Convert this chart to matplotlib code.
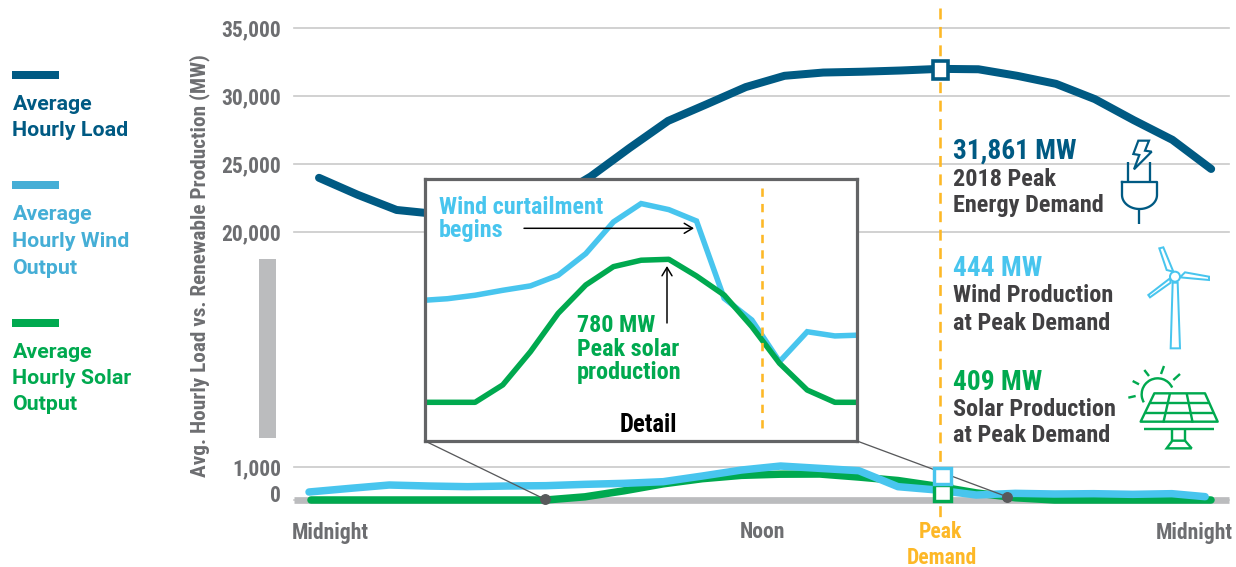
#!/usr/bin/env python3
"""Average hourly load vs wind and solar output, with a detail inset."""
import matplotlib
matplotlib.use("Agg")
import numpy as np
import matplotlib.pyplot as plt
from matplotlib.patches import Polygon, Rectangle, Arc, Circle
from matplotlib.transforms import ScaledTranslation

W, H = 1236, 567

# palette
LOAD = "#005a83"
WIND = "#48c5ee"
WIND_KEY = "#45aed6"
SOLAR = "#00a94f"
ORANGE = "#fdb827"
GRID = "#cbcbcb"
BASE = "#bbbcbe"
TICK = "#6d6e71"
DARK = "#414042"
FRAME = "#636466"

COND = ["Roboto Condensed", "Liberation Sans Narrow", "Roboto"]
REG = ["Roboto", "DejaVu Sans"]

# data, one value per hour
hours = list(range(24))
load = [24000, 22750, 21640, 21350, 21000, 20900, 22400, 24090, 26180, 28180, 29410, 30660,
        31490, 31730, 31790, 31880, 32000, 31970, 31490, 30900, 29780, 28240, 26790, 24650]
wind_hours = [-0.05] + list(range(1, 23)) + [22.85]
wind = [240, 350, 450, 420, 400, 420, 430, 470, 500, 550, 720, 900,
        1020, 950, 880, 400, 300, 150, 200, 180, 190, 170, 190, 100]
solar = [0, 0, 0, 0, 0, 0, 0, 95, 276, 485, 640, 740,
         775, 780, 689, 585, 413, 213, 67, 0, 0, 0, 0, 0]

# the detail box is read separately, it is drawn larger than the main lines
detail_hours = list(range(4, 21))
detail_wind = [555, 565, 584, 611, 635, 693, 811, 984, 1084, 1051, 989, 567, 449, 222, 385, 362, 367]
detail_solar = [0, 0, 0, 95, 276, 485, 640, 740, 775, 780, 689, 585, 413, 213, 67, 0, 0]

upper_ticks = [20000, 25000, 30000, 35000]
lower_ticks = [0, 1000]


def px_axes(fig, x0, y0, x1, y1, **kw):
    """Axes placed by reference pixels (y measured from the top)."""
    return fig.add_axes([x0 / W, 1 - y1 / H, (x1 - x0) / W, (y1 - y0) / H], **kw)


def px(n):
    return n * 72.0 / 100.0


def style_range(ax):
    ax.patch.set_alpha(0)
    for s in ax.spines.values():
        s.set_visible(False)
    ax.set_xticks([])
    ax.tick_params(axis="y", length=0, pad=px(13), labelcolor=TICK)
    ax.yaxis.grid(True, color=GRID, lw=px(1.7), clip_on=False)
    ax.set_axisbelow(True)


def plug_icon(ov):
    kw = dict(color=LOAD, lw=px(2.3), solid_capstyle="butt")
    ov.plot([1127.5, 1127.5], [162, 182], **kw)
    ov.plot([1150, 1150], [162, 182], **kw)
    t = np.linspace(np.pi, 0, 30)
    bx = np.r_[1122, 1122, 1139.5 + 17.5 * np.cos(t), 1157, 1122]
    by = np.r_[182, 195, 195 + 14 * np.sin(t), 182, 182]
    ov.plot(bx, by, color=LOAD, lw=px(2.3))
    ov.plot([1139, 1139], [209, 224], **kw)
    bolt = [(85, 32), (117, 32), (105, 62), (125, 65), (72, 118), (88, 75), (70, 72)]
    ov.add_patch(Polygon([(1110 + x / 3, 130 + y / 3) for x, y in bolt], closed=True,
                         fill=False, ec=LOAD, lw=px(2.2)))


def turbine_icon(ov):
    parts = [[(100, 22), (88, 25), (110, 90), (130, 95)],
             [(165, 97), (237, 110), (237, 120), (150, 112)],
             [(120, 115), (55, 165), (60, 172), (122, 128)],
             [(128, 128), (143, 128), (150, 325), (122, 325)]]
    for p in parts:
        ov.add_patch(Polygon([(1130 + x / 3, 240 + y / 3) for x, y in p], closed=True,
                             fill=False, ec=WIND, lw=px(2.0)))
    ov.add_patch(Circle((1130 + 135 / 3, 240 + 110 / 3), 5, fc="white", ec=WIND, lw=px(2.0), zorder=4))


def solar_icon(ov):
    def seg(a, b):
        ov.plot([1120 + a[0] / 3, 1120 + b[0] / 3], [360 + a[1] / 3, 360 + b[1] / 3],
                color=SOLAR, lw=px(2.4), solid_capstyle="butt")
    panel = [(103, 100), (255, 100), (293, 185), (62, 185)]
    ov.add_patch(Polygon([(1120 + x / 3, 360 + y / 3) for x, y in panel], closed=True,
                         fill=False, ec=SOLAR, lw=px(2.4), joinstyle="round"))
    seg((90, 128), (268, 128))
    seg((76, 160), (282, 160))
    seg((150, 100), (130, 188))
    seg((200, 100), (218, 188))
    seg((72, 208), (283, 208))
    seg((157, 208), (157, 242))
    seg((195, 208), (195, 242))
    base = [(157, 242), (195, 242), (215, 265), (140, 265)]
    ov.add_patch(Polygon([(1120 + x / 3, 360 + y / 3) for x, y in base], closed=True,
                         fill=False, ec=SOLAR, lw=px(2.4)))
    # y axis of the overlay is flipped, so the arc angles run clockwise
    ov.add_patch(Arc((1120 + 113 / 3, 360 + 103 / 3), 32, 32, theta1=150, theta2=335,
                     color=SOLAR, lw=px(2.4)))
    for a, b in [((25, 113), (47, 108)), ((38, 63), (57, 73)), ((73, 30), (87, 48)),
                 ((132, 18), (123, 42)), ((180, 42), (160, 60))]:
        seg(a, b)


def main():
    plt.rcParams.update({"font.family": REG})
    fig = plt.figure(figsize=(W / 100, H / 100), dpi=100, facecolor="white")

    # top part of the broken axis
    up = px_axes(fig, 294, 28, 1229, 232.3, zorder=1)
    up.plot(hours, load, color=LOAD, lw=px(8), solid_capstyle="round", solid_joinstyle="round", clip_on=False)
    up.set_xlim(-0.645, 23.46)
    up.set_ylim(20000, 35000)
    up.set_yticks(upper_ticks, [f"{v:,}" for v in upper_ticks], family=COND, fontsize=15.5, fontweight="bold")
    style_range(up)

    # bottom part of the broken axis
    lo = px_axes(fig, 294, 466.7, 1229, 500, zorder=2)
    kw = dict(lw=px(7.5), solid_capstyle="round", solid_joinstyle="round", clip_on=False)
    lo.axhline(0, color=BASE, lw=px(6.7), solid_capstyle="butt", zorder=1.5, clip_on=False)
    lo.plot(hours, solar, color=SOLAR, **kw)
    lo.plot(wind_hours, wind, color=WIND, **kw)
    lo.set_xlim(-0.434, 23.46)
    lo.set_ylim(0, 1000)
    lo.set_yticks(lower_ticks, [f"{v:,}" for v in lower_ticks], family=COND, fontsize=15.5, fontweight="bold")
    style_range(lo)
    zero = lo.get_yticklabels()[0]
    zero.set_transform(zero.get_transform() + ScaledTranslation(0, 5 / 72, fig.dpi_scale_trans))

    # detail box
    ins = px_axes(fig, 425, 179, 857, 441, zorder=4)
    ins.plot(detail_hours, detail_wind, color=WIND, lw=px(5.5), solid_joinstyle="miter")
    ins.plot(detail_hours, detail_solar, color=SOLAR, lw=px(5.5), solid_joinstyle="round")
    ins.set_xlim(4.19, 19.8)
    ins.set_ylim(-211, 1218)
    ins.set_xticks([])
    ins.set_yticks([])
    for s in ins.spines.values():
        s.set_color(FRAME)
        s.set_linewidth(px(3.2))

    # overlay in reference pixels: labels, connectors, icons
    ov = fig.add_axes([0, 0, 1, 1], zorder=5)
    ov.set_xlim(0, W)
    ov.set_ylim(H, 0)
    ov.axis("off")

    def text(x, y, s, color, size, fam=COND, ha="left", rot=0):
        ov.text(x, y, s, color=color, fontsize=size, family=fam, fontweight="bold",
                ha=ha, va="center", rotation=rot, zorder=6)

    # legend
    rows = [(71, LOAD, [(104, "Average"), (130, "Hourly Load")]),
            (181, WIND_KEY, [(214.5, "Average"), (241.5, "Hourly Wind"), (268, "Output")]),
            (319, SOLAR, [(352, "Average"), (378, "Hourly Solar"), (404.5, "Output")])]
    for top, col, lines in rows:
        ov.add_patch(Rectangle((12, top), 47, 8, fc=col, ec="none"))
        for y, s in lines:
            text(12.5, y, s, col, 15.4, REG)

    # axis break and y title
    ov.add_patch(Rectangle((259, 259), 17, 179, fc=BASE, ec="none"))
    text(200, 266, "Avg. Hourly Load vs. Renewable Production (MW)", TICK, 15.3, ha="center", rot=90)

    # x labels
    text(330, 532.5, "Midnight", TICK, 15.6, ha="center")
    text(762, 532.5, "Noon", TICK, 15.6, ha="center")
    text(1194, 532.5, "Midnight", TICK, 15.6, ha="center")
    text(940, 532.5, "Peak", ORANGE, 15.6, ha="center")
    text(942, 557.5, "Demand", ORANGE, 15.6, ha="center")

    # peak marker, dashed line and squares
    ov.plot([940, 940], [8, 517], color=ORANGE, lw=px(2.6), ls=(0, (4.2, 2.89)), zorder=1)
    ov.add_patch(Rectangle((932.5, 61), 15.8, 17.5, fc="white", ec=LOAD, lw=px(3.6), zorder=3))
    ov.add_patch(Rectangle((933.5, 485), 17, 15.5, fc="white", ec=SOLAR, lw=px(3.4), zorder=3))
    ov.add_patch(Rectangle((933.5, 467.5), 17, 16, fc="white", ec=WIND, lw=px(3.4), zorder=3))

    # connectors from the detail box
    ov.plot([425, 545], [441, 499.3], color="#58595b", lw=px(1.3), zorder=2)
    ov.plot([857, 1007], [441, 496.7], color="#58595b", lw=px(1.3), zorder=2)
    ov.plot([545, 1007], [499.3, 496.7], ls="none", marker="o", ms=px(9.5), color="#58595b", zorder=2)

    # detail box dashed line and text
    ov.plot([762, 762], [188, 428], color=ORANGE, lw=px(2.6), ls=(0, (3.2, 2.74)), zorder=2)
    text(439, 207, "Wind curtailment", WIND, 17.4)
    text(439, 230.5, "begins", WIND, 17.4)
    text(577, 325, "780 MW", SOLAR, 17.4)
    text(577, 349, "Peak solar", SOLAR, 17.4)
    text(577, 372, "production", SOLAR, 17.4)
    text(648, 425, "Detail", "black", 17.8, ha="center")
    head = "->,head_length=0.5,head_width=0.3"
    ov.annotate("", xy=(694, 228.3), xytext=(524, 228.3),
                arrowprops=dict(arrowstyle=head, mutation_scale=12, color="black", lw=px(1.5), shrinkA=0, shrinkB=0))
    ov.annotate("", xy=(667, 266), xytext=(667, 323),
                arrowprops=dict(arrowstyle=head, mutation_scale=12, color="black", lw=px(1.5), shrinkA=0, shrinkB=0))

    # right side call-outs
    text(953, 151, "31,861 MW", LOAD, 19.7)
    text(953, 179, "2018 Peak", DARK, 17.5)
    text(953, 205.5, "Energy Demand", DARK, 17.5)
    text(953, 268, "444 MW", WIND, 19.7)
    text(953, 295.5, "Wind Production", DARK, 17.5)
    text(953, 323, "at Peak Demand", DARK, 17.5)
    text(953, 382, "409 MW", SOLAR, 19.7)
    text(953, 409.5, "Solar Production", DARK, 17.5)
    text(953, 435.5, "at Peak Demand", DARK, 17.5)

    plug_icon(ov)
    turbine_icon(ov)
    solar_icon(ov)

    fig.savefig("out.png", dpi=100)
    plt.close(fig)


if __name__ == "__main__":
    main()
